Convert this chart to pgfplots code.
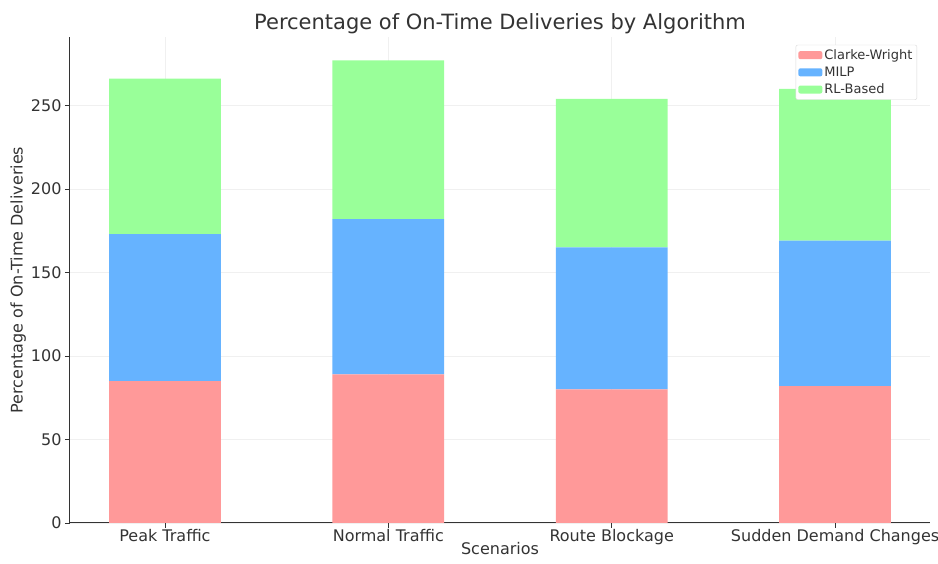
\documentclass[border=0pt]{standalone}
\usepackage{pgfplots}
\pgfplotsset{compat=1.18}
\usepackage{fontspec}
\setmainfont{DejaVu Sans}

\definecolor{cwred}{HTML}{FF9999}
\definecolor{milpblue}{HTML}{66B3FF}
\definecolor{rlgreen}{HTML}{99FF99}
\definecolor{spine}{HTML}{333333}
\definecolor{textgray}{HTML}{333333}

\begin{document}
\begin{tikzpicture}[x=1pt,y=1pt]
% fixed page frame around the 860 x 486 plotting area
\path[use as bounding box] (-70,-41) rectangle (868,523);
\begin{axis}[
  at={(0,0)}, anchor=south west,
  scale only axis,
  width=860pt, height=486pt,
  ybar stacked,
  bar width=0.5,
  xmin=-0.425, xmax=3.425,
  ymin=0, ymax=291,
  xtick={0,1,2,3},
  xticklabels={Peak Traffic, Normal Traffic, Route Blockage, Sudden Demand Changes},
  ytick={0,50,100,150,200,250},
  axis x line*=bottom,
  axis y line*=left,
  axis line style={spine, line width=1pt},
  tick style={spine, line width=0.8pt},
  tick align=outside,
  major tick length=5pt,
  grid=major,
  grid style={gray!12, line width=0.6pt},
  tick label style={font=\fontsize{16}{18}\selectfont, text=textgray},
  xticklabel style={yshift=2pt},
  /pgf/number format/assume math mode=true,
  xlabel={Scenarios},
  ylabel={Percentage of On-Time Deliveries},
  label style={font=\fontsize{16}{18}\selectfont, text=textgray},
  xlabel style={yshift=10pt},
  ylabel style={yshift=-2pt},
  title={Percentage of On-Time Deliveries by Algorithm},
  title style={font=\fontsize{21}{24}\selectfont, text=textgray, yshift=-6pt},
  legend style={at={(0.985,0.984)}, anchor=north east,
    font=\fontsize{13}{15}\selectfont, draw=gray!30, rounded corners=2pt,
    row sep=2pt, inner sep=2.5pt, text=textgray},
  legend image code/.code={\fill[#1] (0pt,-4pt) rectangle (24pt,4pt);},
  legend cell align=left,
]
\addplot[fill=cwred, draw=none] coordinates {(0,85) (1,89) (2,80) (3,82)};
\addplot[fill=milpblue, draw=none] coordinates {(0,88) (1,93) (2,85) (3,87)};
\addplot[fill=rlgreen, draw=none] coordinates {(0,93) (1,95) (2,89) (3,91)};
\legend{Clarke-Wright, MILP, RL-Based}
\end{axis}
\end{tikzpicture}
\end{document}
